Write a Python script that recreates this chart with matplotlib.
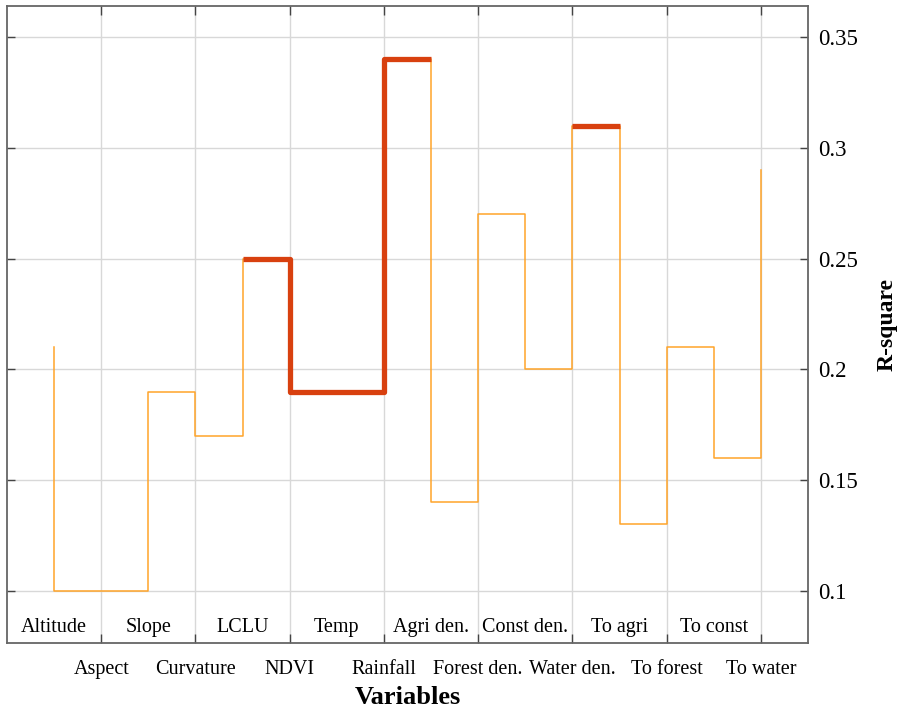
import matplotlib.pyplot as plt
import numpy as np

plt.rcParams['font.family'] = ['Liberation Serif', 'DejaVu Serif']

# variables in order along the axis
variables = ['Altitude', 'Aspect', 'Slope', 'Curvature', 'LCLU', 'NDVI', 'Temp',
             'Rainfall', 'Agri den.', 'Forest den.', 'Const den.', 'Water den.',
             'To agri', 'To forest', 'To const', 'To water']

# R-square (last value is the closing rise at To water)
r2 = [0.21, 0.10, 0.10, 0.19, 0.17, 0.25, 0.19, 0.19, 0.34, 0.14, 0.27,
      0.20, 0.31, 0.13, 0.21, 0.16, 0.29]

# highlighted runs (start index, end index) on the variable axis, 1-based
best_runs = [(5, 9), (12, 13)]

pos = np.arange(1, len(variables) + 1)
xs = np.append(pos, pos[-1])

fig = plt.figure(figsize=(9.01, 7.12), dpi=100)
ax = fig.add_axes([0.0078, 0.0969, 0.889, 0.8947])

ax.plot(xs, r2, drawstyle='steps-pre', color='#FFA42A', lw=1.1, zorder=3)

for a, b in best_runs:
    hx = np.arange(a, b + 1)
    hy = [r2[a]] + [r2[i] for i in range(a, b)]
    ax.plot(hx, hy, drawstyle='steps-pre', color='#D8400F', lw=3.8,
            solid_capstyle='butt', zorder=4)

ax.set_xlim(0, 17)
ax.set_ylim(0.0765, 0.364)

# even variables as tick labels, odd ones written inside the axes
ax.set_xticks(pos[1::2])
ax.set_xticklabels(variables[1::2], fontsize=14.5)
for p, name in zip(pos[0::2], variables[0::2]):
    ax.text(p, 0.024, name, transform=ax.get_xaxis_transform(),
            ha='center', va='center', fontsize=14.5)

ax.set_yticks([0.1, 0.15, 0.2, 0.25, 0.3, 0.35])
ax.set_yticklabels(['0.1', '0.15', '0.2', '0.25', '0.3', '0.35'], fontsize=16.5)
ax.yaxis.tick_right()
ax.yaxis.set_label_position('right')
ax.tick_params(axis='y', which='both', left=True, right=True, direction='in',
               length=6, width=1, color='#444444', pad=7)
ax.tick_params(axis='x', which='both', top=True, bottom=True, direction='in',
               length=6.5, width=1, color='#444444', pad=12)

ax.grid(True, color='#d8d8d8', lw=1)
ax.set_axisbelow(True)
for s in ax.spines.values():
    s.set_color('#666666')
    s.set_linewidth(1.3)

ax.set_xlabel('Variables', fontsize=19, fontweight='bold', labelpad=5)
ax.set_ylabel('R-square', fontsize=17, fontweight='bold', labelpad=14)

fig.savefig('out.png', dpi=100)
